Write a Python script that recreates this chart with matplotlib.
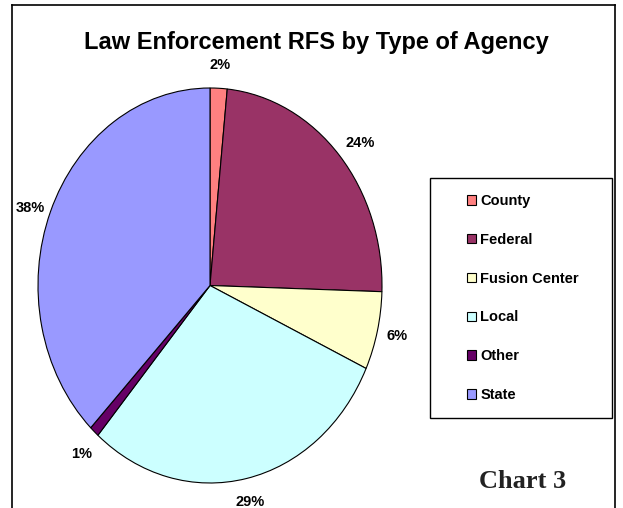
import matplotlib
matplotlib.use("Agg")
import matplotlib.pyplot as plt
from matplotlib.patches import Rectangle, Patch
from matplotlib.lines import Line2D

categories = ["County", "Federal", "Fusion Center", "Local", "Other", "State"]
values = [1.6, 23.9, 6.4, 29.4, 0.9, 37.8]
pct_labels = ["2%", "24%", "6%", "29%", "1%", "38%"]
colors = ["#FF8080", "#993366", "#FFFFCC", "#CCFFFF", "#660066", "#9999FF"]
title = "Law Enforcement RFS by Type of Agency"

# small label nudges in pixels (right, down) to mimic reference placement
label_nudges_px = [(0, -2), (7, 2), (1, 0), (0, 2), (0, 6), (-3, 4)]

W, H = 623, 508
fig = plt.figure(figsize=(W / 100, H / 100), dpi=100)
fig.patch.set_facecolor("white")

def fx(px):
    return px / W

def fy(py):
    return 1 - py / H

# outer chart frame (top, left, right)
fig.add_artist(Line2D([fx(12), fx(615)], [fy(5), fy(5)], color="black", lw=1.2, transform=fig.transFigure))
fig.add_artist(Line2D([fx(12), fx(12)], [fy(5), 0], color="black", lw=1.2, transform=fig.transFigure))
fig.add_artist(Line2D([fx(615), fx(615)], [fy(5), 0], color="black", lw=1.2, transform=fig.transFigure))

# pie axes (elliptical as in reference)
cx, cy, rx, ry = 210, 285.5, 172, 197.5
ax = fig.add_axes([fx(cx - rx), fy(cy + ry), 2 * rx / W, 2 * ry / H])
wedges, texts = ax.pie(values, colors=colors, startangle=90, counterclock=False,
                       labels=pct_labels, labeldistance=1.11,
                       wedgeprops=dict(edgecolor="black", linewidth=0.8))
for t, (ndx, ndy) in zip(texts, label_nudges_px):
    t.set_fontsize(10.5)
    t.set_fontweight("bold")
    t.set_fontfamily("Liberation Sans")
    t.set_ha("center")
    t.set_va("center")
    x, y = t.get_position()
    t.set_position((x + ndx / rx, y - ndy / ry))
ax.set_aspect("auto")
ax.set_xlim(-1, 1)
ax.set_ylim(-1, 1)
ax.axis("off")

# title
fig.text(fx(316), fy(43), title, ha="center", va="center", fontsize=17,
         fontweight="bold", family="Liberation Sans")

# legend frame
lx0, ly0, lx1, ly1 = 430, 178, 612, 418
fig.add_artist(Rectangle((fx(lx0), fy(ly1)), fx(lx1) - fx(lx0), fy(ly0) - fy(ly1),
                         transform=fig.transFigure, fill=False, edgecolor="black", lw=1.0))
handles = [Patch(facecolor=c, edgecolor="black", linewidth=0.8) for c in colors]
leg = fig.legend(handles, categories, loc="center left",
                 bbox_to_anchor=(fx(467), fy((ly0 + ly1) / 2)),
                 frameon=False, prop=dict(family="Liberation Sans", weight="bold", size=10.5),
                 labelspacing=1.7, handlelength=0.62, handleheight=0.62, handletextpad=0.3,
                 borderpad=0, borderaxespad=0)

fig.text(fx(523), fy(482), "Chart 3", ha="center", va="center", fontsize=19,
         fontweight="bold", family="Liberation Serif", color="#222222")

fig.savefig("out.png", dpi=100, facecolor="white")
